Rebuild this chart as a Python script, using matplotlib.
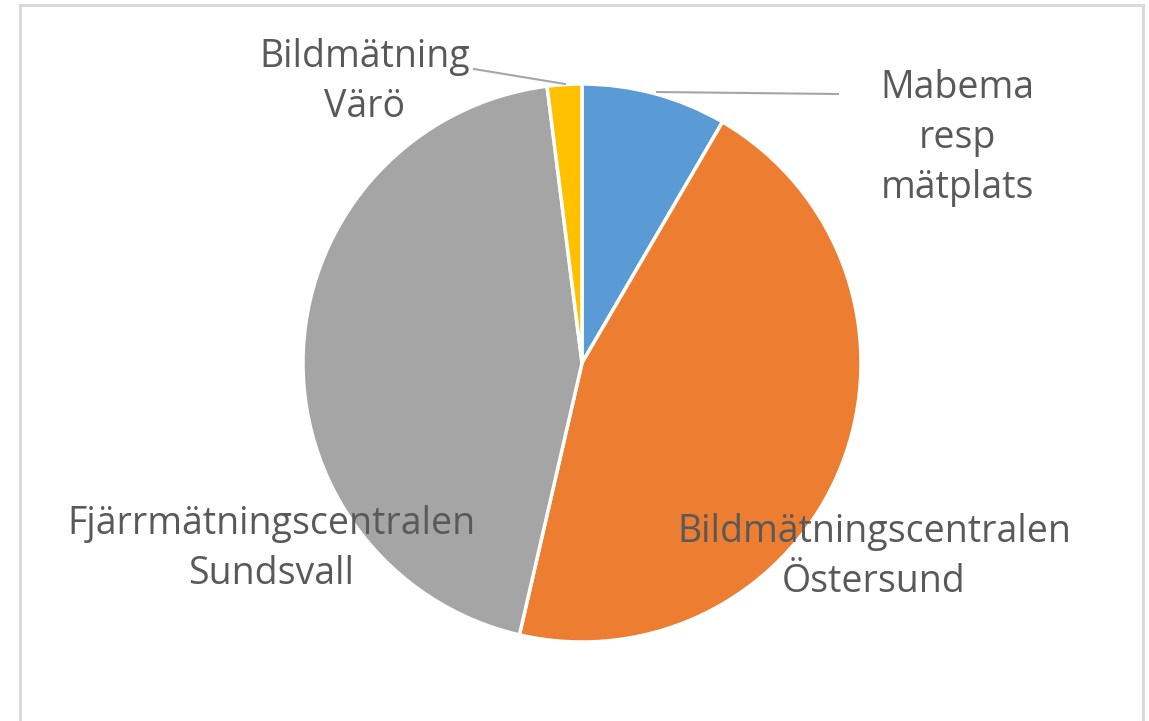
import matplotlib
matplotlib.use("Agg")
import matplotlib.pyplot as plt
from matplotlib.patches import Rectangle

# Slice data (clockwise from 12 o'clock)
labels = ["Mabema\nresp\nmätplats",
          "Bildmätningscentralen\nÖstersund",
          "Fjärrmätningscentralen\nSundsvall",
          "Bildmätning\nVärö"]
shares = [8.4, 45.2, 44.4, 2.0]
colors = ["#5B9BD5", "#ED7D31", "#A5A5A5", "#FFC000"]

W, H = 1149, 721
fig = plt.figure(figsize=(W / 100, H / 100), dpi=100)
ax = fig.add_axes([0, 0, 1, 1])
ax.set_xlim(0, W)
ax.set_ylim(0, H)
ax.set_aspect("equal")
ax.axis("off")

# light chart-area border (runs off the bottom edge)
ax.add_patch(Rectangle((20, -10), 1123, H - 5 + 10, fill=False,
                       edgecolor="#D9D9D9", linewidth=2.2))

cx, cy, r = 582, H - 363, 279
ax.pie(shares, colors=colors, startangle=90, counterclock=False,
       center=(cx, cy), radius=r,
       wedgeprops=dict(edgecolor="white", linewidth=2.5))
ax.set_xlim(0, W)
ax.set_ylim(0, H)

txt = dict(fontsize=27, color="#595959", family="Open Sans",
           ha="center", va="center", linespacing=1.42)
label_pos = [(957, H - 138), (874, H - 557), (271, H - 549), (365, H - 82)]
for lab, (x, y) in zip(labels, label_pos):
    ax.text(x, y, lab, **txt)

# leader lines
ax.plot([657, 838], [H - 92, H - 94], color="#A6A6A6", lw=1.5)
ax.plot([474, 480, 565], [H - 69, H - 70, H - 84], color="#A6A6A6", lw=1.5)

plt.savefig("out.png", dpi=100)
